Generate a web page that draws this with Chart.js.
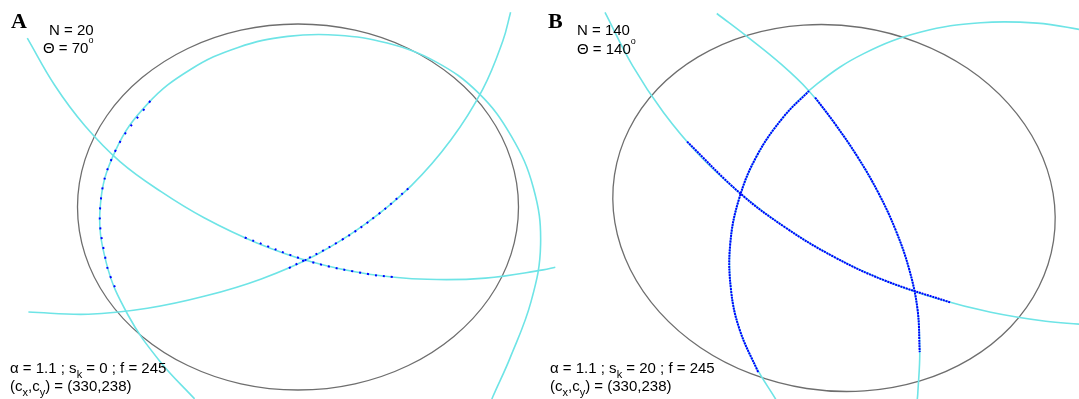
<!DOCTYPE html>
<html>
<head>
<meta charset="utf-8">
<title>Ellipse fitting, panels A and B</title>
<script src="https://cdn.jsdelivr.net/npm/chart.js@4.4.1/dist/chart.umd.min.js"></script>
<style>
    html, body { margin: 0; padding: 0; background: #fff; }
    #wrap { position: relative; width: 1079px; height: 399px; overflow: hidden; }
    #figure { position: absolute; left: 0; top: 0; }
    .txt { position: absolute; font-family: "Liberation Sans", Arial, sans-serif; font-size: 15px; line-height: 15px; color: #000; white-space: nowrap; }
    .panel { position: absolute; font-family: "Liberation Serif", "Times New Roman", serif; font-weight: bold; font-size: 22px; line-height: 22px; color: #000; }
    .txt sub { font-size: 11px; vertical-align: -5px; line-height: 0; }
    .deg { font-size: 9px; vertical-align: 10px; line-height: 0; }
</style>
</head>
<body>
<div id="wrap">
    <canvas id="figure" width="1079" height="399"></canvas>

    <div class="panel" style="left:11px; top:10px;">A</div>
    <div class="txt" style="left:49px; top:22px;">N = 20</div>
    <div class="txt" style="left:43px; top:40px;">&Theta; = 70<span class="deg">o</span></div>
    <div class="txt" style="left:10px; top:360px;">&alpha; = 1.1 ; s<sub>k</sub> = 0 ; f = 245</div>
    <div class="txt" style="left:10px; top:378px;">(c<sub>x</sub>,c<sub>y</sub>) = (330,238)</div>

    <div class="panel" style="left:548px; top:10px;">B</div>
    <div class="txt" style="left:577px; top:22px;">N = 140</div>
    <div class="txt" style="left:577px; top:41px;">&Theta; = 140<span class="deg">o</span></div>
    <div class="txt" style="left:550px; top:360px;">&alpha; = 1.1 ; s<sub>k</sub> = 20 ; f = 245</div>
    <div class="txt" style="left:550px; top:378px;">(c<sub>x</sub>,c<sub>y</sub>) = (330,238)</div>
</div>

<script>
// points in picture coordinates (x right, y down)

// panel A
const ellipseA = [[511, 159.6], [518.5, 207], [511, 254.4], [489, 298.5], [453.9, 336.4], [408.3, 365.5],
    [355.1, 383.8], [298, 390], [240.9, 383.8], [187.8, 365.5], [142.1, 336.4], [107, 298.5], [85, 254.4],
    [77.5, 207], [85, 159.6], [107, 115.5], [142.1, 77.6], [187.8, 48.5], [240.9, 30.2], [298, 24],
    [355.1, 30.2], [408.3, 48.5], [453.9, 77.6], [489, 115.5], [511, 159.6], [518.5, 207], [511, 254.4]];
const circleA1 = [[194.6, 398.9], [159.4, 360.7], [128, 315], [106.3, 262.9], [100.3, 205.7], [115.6, 150.3],
    [147.8, 103.6], [190.5, 69.5], [238.1, 47.4], [287.7, 36.4], [337.6, 35.2], [387.2, 43.1], [435.5, 61.6],
    [478.4, 92.9], [511.3, 136.2], [533.3, 187.5], [540.6, 244.2], [531.1, 301.4], [510.2, 357.6],
    [492.8, 396.8], [489.5, 405.6]];
const circleA2 = [[27.3, 38.2], [54.7, 85.3], [84.9, 125.8], [120.3, 161.9], [161.1, 191.7], [204.1, 217.8],
    [256.9, 242.9], [312.1, 262.1], [369.1, 274.2], [427.2, 279.3], [485.4, 278.1], [543.1, 269.9], [555.3, 267.2]];
const circleA3 = [[28.4, 312], [88.3, 314.3], [147.4, 308.3], [205, 296.1], [261.3, 278.9], [315.5, 255.2],
    [365.8, 223.7], [411.6, 185.4], [450.8, 140.1], [482.7, 89.4], [502.8, 41], [510.6, 12.2]];
const dotsA1 = [[150.3, 100.9], [115.6, 150.3], [100.3, 205.7], [106.3, 262.9], [116.5, 291.4]];
const dotsA2 = [[244.7, 237.5], [312.1, 262.1], [369.1, 274.2], [393.9, 277.2]];
const dotsA3 = [[288.9, 268.2], [341.1, 240.3], [377.7, 214.7], [410, 187]];

// panel B
const ellipseB = [[1053.1, 193.3], [1053.5, 241.2], [1038.9, 286.8], [1010.5, 327], [969.9, 359.1], [920.1, 380.9],
    [864.5, 390.9], [806.7, 388.5], [750.9, 373.7], [700.6, 347.7], [659.5, 312.1], [630.3, 269.5],
    [614.9, 222.7], [614.5, 174.8], [629.1, 129.2], [657.5, 89], [698.1, 56.9], [747.9, 35.1], [803.5, 25.1],
    [861.3, 27.5], [917.1, 42.3], [967.4, 68.3], [1008.5, 103.9], [1037.7, 146.5], [1053.1, 193.3],
    [1053.5, 241.2], [1038.9, 286.8]];
const circleB1 = [[605, 12.4], [632.5, 65.6], [663.5, 112.5], [699.6, 155.5], [740.7, 193.8], [785.5, 227.6],
    [833.4, 256.6], [884, 280.2], [936.7, 298.5], [990.8, 312.2], [1045.8, 321.3], [1079.3, 324.1]];
const circleB2 = [[775.7, 399.2], [755.6, 366.2], [739.6, 329.6], [731, 290], [730.2, 244.2], [739.1, 198.7],
    [757, 155.5], [783.6, 116.8], [817.1, 83.9], [864.2, 53.4], [920.9, 32.1], [980.7, 22.7], [1037, 23.1],
    [1084.6, 30.2]];
const circleB3 = [[716.8, 13.5], [749.7, 38.6], [780.2, 63.4], [807.8, 89.7], [834.4, 123], [857.8, 157.2],
    [878.3, 192.7], [895.5, 229.7], [909, 268.6], [917.5, 309.2], [919.8, 351], [917.8, 393.3], [917.1, 401.3]];
const dotsB1 = [[687.1, 141.6], [740.7, 193.8], [785.5, 227.6], [833.4, 256.6], [884, 280.2], [950.1, 302.4]];
const dotsB2 = [[758.1, 372.1], [739.6, 329.6], [731, 290], [730.2, 244.2], [739.1, 198.7], [757, 155.5],
    [783.6, 116.8], [809, 91]];
const dotsB3 = [[815.1, 97.5], [834.4, 123], [857.8, 157.2], [878.3, 192.7], [895.5, 229.7], [909, 268.6],
    [917.5, 309.2], [919.7, 352.1]];

const GRAY = '#6e6e6e';
const CYAN = 'rgb(110, 228, 230)';
const BLUE = '#0000ff';

// closed curves repeat a point at each end; those two end segments are hidden
function curve(pts, color, width, dash, tension, closed) {
    const last = pts.length - 1;
    const ds = {
        data: pts.map(function (p) { return { x: p[0], y: p[1] }; }),
        borderColor: color,
        borderWidth: width,
        borderDash: dash || [],
        borderCapStyle: 'butt',
        pointRadius: 0,
        pointHoverRadius: 0,
        tension: tension,
        fill: false
    };
    if (closed) {
        ds.segment = {
            borderColor: function (c) {
                return (c.p0DataIndex === 0 || c.p1DataIndex === last) ? 'rgba(0,0,0,0)' : color;
            }
        };
    }
    return ds;
}

document.addEventListener('DOMContentLoaded', function () {
    const ctx = document.getElementById('figure').getContext('2d');

    // first dataset is drawn on top
    const datasets = [
        curve(dotsA1, BLUE, 2, [2, 8], 0.4),
        curve(dotsA2, BLUE, 2, [2, 6], 0.4),
        curve(dotsA3, BLUE, 2, [2, 5.5], 0.4),
        curve(dotsB1, BLUE, 2, [2, 0.8], 0.4),
        curve(dotsB2, BLUE, 2, [2, 0.8], 0.4),
        curve(dotsB3, BLUE, 2, [2, 0.8], 0.4),
        curve(circleA1, CYAN, 1.6, null, 0.4),
        curve(circleA2, CYAN, 1.6, null, 0.4),
        curve(circleA3, CYAN, 1.6, null, 0.4),
        curve(circleB1, CYAN, 1.6, null, 0.4),
        curve(circleB2, CYAN, 1.6, null, 0.4),
        curve(circleB3, CYAN, 1.6, null, 0.4),
        curve(ellipseA, GRAY, 1.3, null, 0.34, true),
        curve(ellipseB, GRAY, 1.3, null, 0.34, true)
    ];

    new Chart(ctx, {
        type: 'line',
        data: { datasets: datasets },
        options: {
            responsive: false,
            animation: false,
            events: [],
            layout: { padding: 0 },
            plugins: {
                legend: { display: false },
                tooltip: { enabled: false }
            },
            scales: {
                x: { type: 'linear', min: 0, max: 1079, display: false },
                y: { type: 'linear', min: 0, max: 399, reverse: true, display: false }
            }
        }
    });
});
</script>
</body>
</html>
